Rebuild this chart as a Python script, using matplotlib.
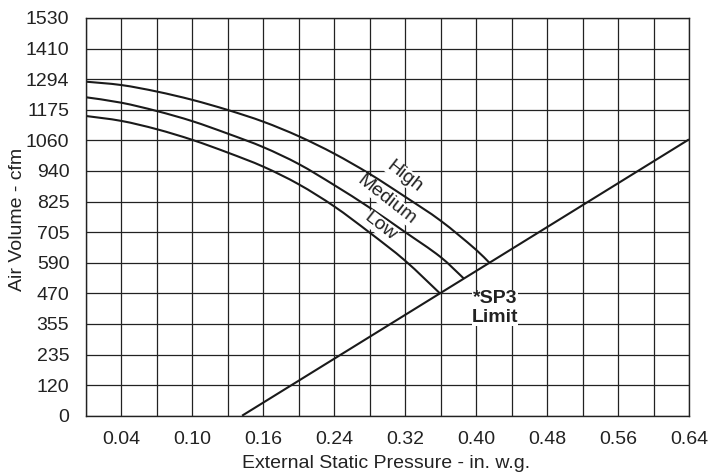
import numpy as np
import matplotlib
matplotlib.use("Agg")
import matplotlib.pyplot as plt
from matplotlib.path import Path
from matplotlib.patches import PathPatch

plt.rcParams['font.family'] = ['Liberation Sans', 'DejaVu Sans']

# Axis tick labels
x_tick_values = [0.04, 0.10, 0.16, 0.24, 0.32, 0.40, 0.48, 0.56, 0.64]
y_tick_labels = ["0", "120", "235", "355", "470", "590", "705", "825", "940",
                 "1060", "1175", "1294", "1410", "1530"]

# Fan curves (external static pressure in. w.g., air volume cfm)
high_p = [0.01, 0.04, 0.07, 0.10, 0.13, 0.16, 0.20, 0.24, 0.28, 0.32, 0.36, 0.40, 0.415]
high_cfm = [1285, 1272, 1247, 1215, 1176, 1131, 1075, 1008, 930, 842, 750, 638, 588]

med_p = [0.01, 0.04, 0.07, 0.10, 0.13, 0.16, 0.20, 0.24, 0.28, 0.32, 0.36, 0.386]
med_cfm = [1225, 1204, 1172, 1133, 1085, 1033, 968, 887, 800, 706, 610, 528]

low_p = [0.01, 0.04, 0.07, 0.10, 0.13, 0.16, 0.20, 0.24, 0.28, 0.32, 0.359]
low_cfm = [1153, 1134, 1102, 1061, 1012, 958, 890, 805, 704, 596, 471]

# SP3 limit line
limit_p = [0.142, 0.64]
limit_cfm = [0, 1063]

# Non-uniform pressure axis: grid positions of key pressures
scale_p = [0.01, 0.04, 0.10, 0.16, 0.64]
scale_u = [0, 1, 3, 5, 17]


def fwd(p):
    return np.interp(p, scale_p, scale_u)


def inv(u):
    return np.interp(u, scale_u, scale_p)


def smooth_path(px, py):
    """Cubic Bezier path through the given points (Catmull-Rom tangents),
    built in grid space and mapped back to data space."""
    u = fwd(np.asarray(px, float))
    y = np.asarray(py, float)
    n = len(u)
    verts = [(px[0], py[0])]
    codes = [Path.MOVETO]
    for i in range(n - 1):
        i0 = max(i - 1, 0)
        i3 = min(i + 2, n - 1)
        c1u = u[i] + (u[i + 1] - u[i0]) / 6.0 * (u[i + 1] - u[i]) / max(u[i + 1] - u[i0], 1e-9) * (2 if i0 != i else 1)
        c1y = y[i] + (y[i + 1] - y[i0]) / 6.0 * (u[i + 1] - u[i]) / max(u[i + 1] - u[i0], 1e-9) * (2 if i0 != i else 1)
        c2u = u[i + 1] - (u[i3] - u[i]) / 6.0 * (u[i + 1] - u[i]) / max(u[i3] - u[i], 1e-9) * (2 if i3 != i + 1 else 1)
        c2y = y[i + 1] - (y[i3] - y[i]) / 6.0 * (u[i + 1] - u[i]) / max(u[i3] - u[i], 1e-9) * (2 if i3 != i + 1 else 1)
        verts += [(float(inv(c1u)), c1y), (float(inv(c2u)), c2y),
                  (px[i + 1], py[i + 1])]
        codes += [Path.CURVE4] * 3
    return Path(verts, codes)


W, H = 710, 476
fig = plt.figure(figsize=(W / 100, H / 100), dpi=100)
L, R, T, B = 86, 689, 18, 415.7
ax = fig.add_axes([L / W, 1 - B / H, (R - L) / W, (B - T) / H])

ax.set_xscale('function', functions=(fwd, inv))
ax.set_xlim(0.01, 0.64)
ymax = 1530
ax.set_ylim(0, ymax)

ax.set_xticks(x_tick_values)
ax.set_xticklabels([f"{v:.2f}" for v in x_tick_values])
ax.set_xticks(inv(np.arange(0, 18)), minor=True)
yt = np.arange(len(y_tick_labels)) * ymax / (len(y_tick_labels) - 1)
ax.set_yticks(yt)
ax.set_yticklabels(y_tick_labels)

ax.grid(True, which='both', axis='x', color='#222222', linewidth=0.9)
ax.grid(True, which='major', axis='y', color='#222222', linewidth=0.9)
ax.set_axisbelow(True)
ax.tick_params(which='both', length=0, labelsize=14, colors='#222222')
ax.tick_params(axis='x', pad=11)
ax.tick_params(axis='y', pad=12)
for s in ax.spines.values():
    s.set_color('#222222')
    s.set_linewidth(1.0)

lc = '#1a1a1a'
for px, py in [(high_p, high_cfm), (med_p, med_cfm), (low_p, low_cfm)]:
    ax.add_patch(PathPatch(smooth_path(px, py), facecolor='none',
                           edgecolor=lc, lw=1.5, capstyle='butt'))
ax.plot(limit_p, limit_cfm, color=lc, lw=1.5, solid_capstyle='butt', clip_on=False)


def lab(txt, p, c):
    t = ax.text(p, c, txt, rotation=-38, ha='center', va='center', fontsize=14,
                color='#222222', rotation_mode='anchor')
    t.set_bbox(dict(facecolor='white', edgecolor='none', pad=0.0))


lab("High", 0.3197, 920)
lab("Medium", 0.2995, 830)
lab("Low", 0.2924, 727)

t = ax.text(0.421, 414, "*SP3\nLimit", ha='center', va='center', fontsize=14,
            fontweight='bold', color='#222222', linespacing=1.2)
t.set_bbox(dict(facecolor='white', edgecolor='none', pad=0.0))

fig.text(386 / W, 1 - 463 / H, "External Static Pressure - in. w.g.",
         ha='center', va='center', fontsize=14, color='#222222')
fig.text(18 / W, 1 - 219 / H, "Air Volume - cfm", rotation=90,
         ha='center', va='center', fontsize=14, color='#222222')

fig.savefig("out.png", dpi=100)
